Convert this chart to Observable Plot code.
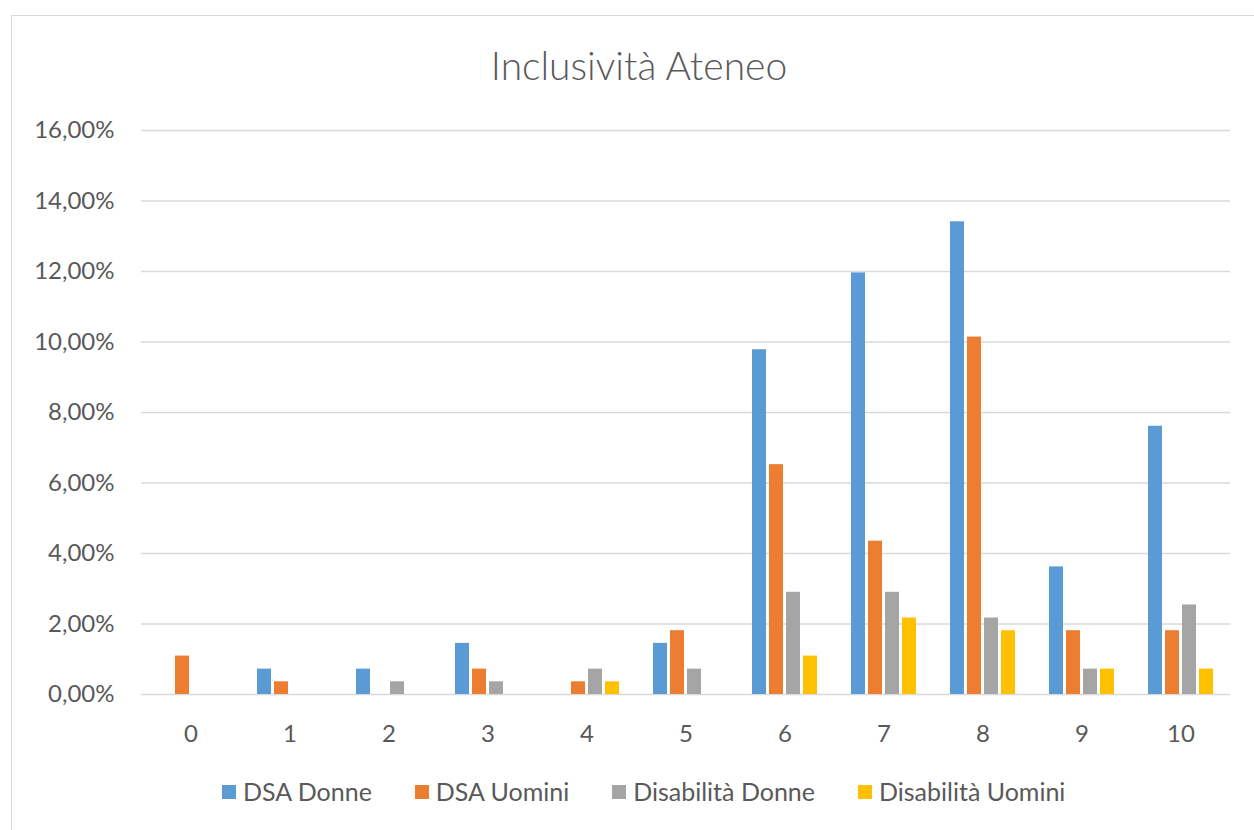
<!DOCTYPE html>
<html>
<head>
<meta charset="utf-8">
<script src="https://cdn.jsdelivr.net/npm/d3@7"></script>
<script src="https://cdn.jsdelivr.net/npm/@observablehq/plot@0.6"></script>
<style>
  html, body { margin: 0; padding: 0; background: #fff; overflow: hidden; }
  body { width: 1254px; height: 830px; position: relative; font-family: Lato, "Open Sans", sans-serif; color: #595959; }
  #frame { position: absolute; left: 11px; top: 15px; width: 1300px; height: 900px; border: 1.5px solid #d9d9d9; box-sizing: border-box; }
  #title { position: absolute; left: 0; top: 40px; width: 1278px; height: 50px; line-height: 50px; text-align: center; font-size: 39px; font-weight: 300; color: #595959; }
  #chart { position: absolute; left: 0; top: 100px; }
  #legend { position: absolute; left: 222px; top: 776px; height: 30px; display: flex; align-items: center; gap: 43px; font-size: 25px; line-height: 30px; color: #595959; }
  .item { display: flex; align-items: center; }
  .sw { width: 14px; height: 14px; margin-right: 7px; margin-top: 2px; }
</style>
</head>
<body>
<div id="frame"></div>
<div id="title">Inclusività Ateneo</div>
<div id="chart"></div>
<div id="legend"></div>
<script>
const categories = ["0","1","2","3","4","5","6","7","8","9","10"];
const series = ["DSA Donne","DSA Uomini","Disabilità Donne","Disabilità Uomini"];
const colors = ["#5B9BD5","#ED7D31","#A5A5A5","#FFC000"];
const dsaDonne   = [0, 0.72, 0.72, 1.45, 0, 1.45, 9.78, 11.96, 13.41, 3.62, 7.61];
const dsaUomini  = [1.09, 0.36, 0, 0.72, 0.36, 1.81, 6.52, 4.35, 10.14, 1.81, 1.81];
const disDonne   = [0, 0, 0.36, 0.36, 0.72, 0.72, 2.90, 2.90, 2.17, 0.72, 2.54];
const disUomini  = [0, 0, 0, 0, 0.36, 0, 1.09, 2.17, 1.81, 0.72, 0.72];
const yTicks = [0, 2, 4, 6, 8, 10, 12, 14, 16];

const seriesValues = [dsaDonne, dsaUomini, disDonne, disUomini];
const data = [];
categories.forEach((c, i) => {
  series.forEach((s, j) => data.push({cat: c, series: s, value: seriesValues[j][i]}));
});

const fmt = d => d.toFixed(2).replace(".", ",") + "%";

const chart = Plot.plot({
  width: 1254,
  height: 660,
  marginTop: 30,
  marginLeft: 140,
  marginRight: 23,
  marginBottom: 66,
  style: {fontFamily: "Lato, 'Open Sans', sans-serif", fontSize: "24px", color: "#595959", background: "transparent"},
  fx: {domain: categories, padding: 0, label: null, tickSize: 0, tickPadding: 30},
  x: {domain: series, paddingInner: 0.1667, paddingOuter: 0.839, axis: null},
  y: {domain: [0, 16], ticks: yTicks, tickFormat: fmt, label: null, tickSize: 0, tickPadding: 27},
  color: {domain: series, range: colors},
  marks: [
    Plot.ruleY(yTicks, {stroke: "#d9d9d9", strokeWidth: 1.5}),
    Plot.barY(data, {fx: "cat", x: "series", y: "value", fill: "series"})
  ]
});
document.getElementById("chart").appendChild(chart);

const legend = document.getElementById("legend");
series.forEach((s, j) => {
  const it = document.createElement("div");
  it.className = "item";
  const sw = document.createElement("div");
  sw.className = "sw";
  sw.style.background = colors[j];
  const t = document.createElement("span");
  t.textContent = s;
  it.appendChild(sw);
  it.appendChild(t);
  legend.appendChild(it);
});
</script>
</body>
</html>
